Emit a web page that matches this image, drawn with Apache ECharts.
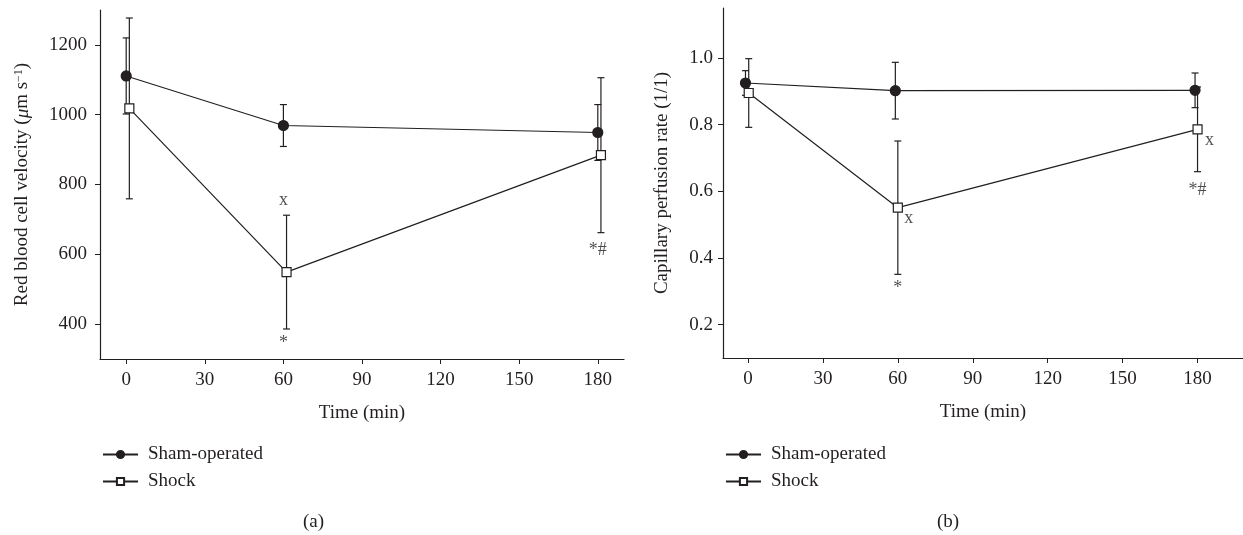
<!DOCTYPE html>
<html>
<head>
    <meta charset="UTF-8">
    <title>Red blood cell velocity / capillary perfusion</title>
    <style>
        html, body { margin: 0; padding: 0; background: #fff; }
        #box { width: 1243px; height: 535px; }
    </style>
    <script src="https://cdn.jsdelivr.net/npm/echarts@6/dist/echarts.min.js"></script>
</head>
<body>
<div id="box"></div>
<script>
    // time points (min), small offsets so the two groups don't overlap
    var shamTimesA = [0, 60, 180];
    var shockTimesA = [1.2, 61.2, 181.2];
    var shamTimesB = [-1, 59, 179];
    var shockTimesB = [0.3, 60, 180];

    // (a) red blood cell velocity (um/s)
    var shamVel = [1111, 969, 949];
    var shamVelErr = [109, 60, 80];
    var shockVel = [1018, 549, 884];
    var shockVelErr = [259, 163, 222];

    // (b) capillary perfusion rate
    var shamPerf = [0.925, 0.902, 0.903];
    var shamPerfErr = [0.037, 0.085, 0.052];
    var shockPerf = [0.895, 0.551, 0.786];
    var shockPerfErr = [0.103, 0.2, 0.127];

    // significance marks [x, y, text]
    var marksA = [[60, 755, 'x'], [60, 345, '*'], [180, 612, '*#']];
    var marksB = [[64.4, 0.52, 'x'], [60, 0.31, '*'], [184.8, 0.754, 'x'], [180, 0.604, '*#']];

    var xTicks = [0, 30, 60, 90, 120, 150, 180];
    var yTicksA = [400, 600, 800, 1000, 1200];
    var yTicksB = [0.2, 0.4, 0.6, 0.8, 1.0];

    var FONT = "'Liberation Serif', 'DejaVu Serif', serif";
    var INK = '#231f20';

    function zip(xs, ys) {
        return xs.map(function (x, i) { return [x, ys[i]]; });
    }
    function zipErr(xs, ys, es) {
        return xs.map(function (x, i) { return [x, ys[i], es[i]]; });
    }

    // error bars drawn with the axis scales
    function errRender(params, api) {
        var x = api.value(0), y = api.value(1), e = api.value(2);
        var hi = api.coord([x, y + e]);
        var lo = api.coord([x, y - e]);
        var w = 3.5;
        var st = { stroke: INK, lineWidth: 1.2 };
        return {
            type: 'group',
            children: [
                { type: 'line', shape: { x1: hi[0], y1: hi[1], x2: lo[0], y2: lo[1] }, style: st },
                { type: 'line', shape: { x1: hi[0] - w, y1: hi[1], x2: hi[0] + w, y2: hi[1] }, style: st },
                { type: 'line', shape: { x1: lo[0] - w, y1: lo[1], x2: lo[0] + w, y2: lo[1] }, style: st }
            ]
        };
    }

    function xAxisFor(idx, max) {
        return {
            gridIndex: idx,
            type: 'value',
            min: -10,
            max: max,
            name: 'Time (min)',
            nameLocation: 'middle',
            nameGap: 45,
            nameTextStyle: { fontFamily: FONT, fontSize: 19, color: INK },
            axisLine: { onZero: false, lineStyle: { color: INK, width: 1.2 } },
            axisTick: { show: true, length: 5, customValues: xTicks, lineStyle: { color: INK } },
            axisLabel: { customValues: xTicks, margin: 12, fontFamily: FONT, fontSize: 19, color: INK,
                formatter: function (v) { return String(v); } },
            splitLine: { show: false }
        };
    }

    function yAxisFor(idx, min, max, ticks, name, gap, margin, fmt) {
        return {
            gridIndex: idx,
            type: 'value',
            min: min,
            max: max,
            name: name,
            nameLocation: 'middle',
            nameGap: gap,
            nameTextStyle: {
                fontFamily: FONT, fontSize: 19, color: INK,
                rich: {
                    it: { fontFamily: FONT, fontSize: 19, fontStyle: 'italic', color: INK },
                    sup: { fontFamily: FONT, fontSize: 12, color: INK, verticalAlign: 'top' },
                    n: { fontFamily: FONT, fontSize: 19, color: INK }
                }
            },
            axisLine: { show: true, onZero: false, lineStyle: { color: INK, width: 1.2 } },
            axisTick: { show: true, length: 5, customValues: ticks, lineStyle: { color: INK } },
            axisLabel: { customValues: ticks, margin: margin, fontFamily: FONT, fontSize: 19, color: INK, formatter: fmt },
            splitLine: { show: false }
        };
    }

    function lineSeries(name, idx, data, filled) {
        return {
            name: name,
            type: 'line',
            xAxisIndex: idx,
            yAxisIndex: idx,
            data: data,
            symbol: filled ? 'circle' : 'rect',
            symbolSize: filled ? 10 : 9,
            color: INK,
            lineStyle: { color: INK, width: 1.2 },
            itemStyle: { color: filled ? INK : '#fff', borderColor: INK, borderWidth: 1.2 },
            z: 3,
            animation: false
        };
    }

    function errSeries(idx, data) {
        return {
            type: 'custom',
            xAxisIndex: idx,
            yAxisIndex: idx,
            data: data,
            renderItem: errRender,
            z: 2,
            silent: true,
            animation: false
        };
    }

    function markSeries(idx, data) {
        return {
            type: 'scatter',
            xAxisIndex: idx,
            yAxisIndex: idx,
            data: data,
            symbolSize: 0,
            silent: true,
            label: {
                show: true,
                position: 'inside',
                fontFamily: FONT,
                fontSize: 18,
                color: INK,
                formatter: function (p) { return p.value[2]; }
            },
            animation: false
        };
    }

    function legendFor(left) {
        return {
            orient: 'vertical',
            left: left,
            top: 440,
            itemWidth: 35,
            itemHeight: 9,
            itemGap: 8,
            data: ['Sham-operated', 'Shock'],
            textStyle: { fontFamily: FONT, fontSize: 19, color: INK, padding: [0, 0, 0, 5] },
            selectedMode: false
        };
    }

    var myChart = echarts.init(document.getElementById('box'));
    var option = {
        backgroundColor: '#fff',
        animation: false,
        title: [
            { text: '(a)', left: 298, top: 508, textStyle: { fontFamily: FONT, fontSize: 19, fontWeight: 'normal', color: INK } },
            { text: '(b)', left: 932, top: 508, textStyle: { fontFamily: FONT, fontSize: 19, fontWeight: 'normal', color: INK } }
        ],
        legend: [legendFor(97), legendFor(720)],
        grid: [
            { left: 100, top: 10, width: 524, height: 349 },
            { left: 723, top: 8, width: 520, height: 350 }
        ],
        xAxis: [xAxisFor(0, 190), xAxisFor(1, 198.2)],
        yAxis: [
            yAxisFor(0, 300, 1300, yTicksA, '{n|Red blood cell velocity (}{it|μ}{n|m s}{sup|−1}{n|)}', 68, 13,
                function (v) { return String(v); }),
            yAxisFor(1, 0.1, 1.15, yTicksB, 'Capillary perfusion rate (1/1)', 51, 10,
                function (v) { return v.toFixed(1); })
        ],
        series: [
            errSeries(0, zipErr(shockTimesA, shockVel, shockVelErr)),
            errSeries(0, zipErr(shamTimesA, shamVel, shamVelErr)),
            lineSeries('Sham-operated', 0, zip(shamTimesA, shamVel), true),
            lineSeries('Shock', 0, zip(shockTimesA, shockVel), false),
            markSeries(0, marksA),

            errSeries(1, zipErr(shockTimesB, shockPerf, shockPerfErr)),
            errSeries(1, zipErr(shamTimesB, shamPerf, shamPerfErr)),
            lineSeries('Sham-operated', 1, zip(shamTimesB, shamPerf), true),
            lineSeries('Shock', 1, zip(shockTimesB, shockPerf), false),
            markSeries(1, marksB)
        ]
    };
    myChart.setOption(option);
</script>
</body>
</html>
